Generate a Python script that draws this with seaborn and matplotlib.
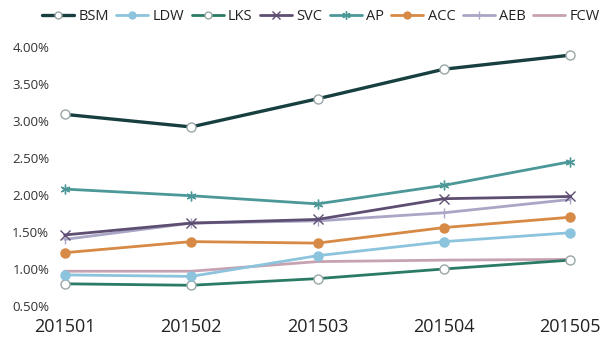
import matplotlib
matplotlib.use("Agg")
import matplotlib.pyplot as plt
import seaborn as sns
import pandas as pd
from matplotlib.ticker import FuncFormatter
from matplotlib.lines import Line2D

months = ["201501", "201502", "201503", "201504", "201505"]
series_names = ["BSM", "LDW", "LKS", "SVC", "AP", "ACC", "AEB", "FCW"]
BSM = [3.09, 2.92, 3.30, 3.70, 3.89]
LDW = [0.92, 0.90, 1.18, 1.37, 1.49]
LKS = [0.80, 0.78, 0.87, 1.00, 1.12]
SVC = [1.46, 1.62, 1.67, 1.95, 1.98]
AP = [2.08, 1.99, 1.88, 2.13, 2.45]
ACC = [1.22, 1.37, 1.35, 1.56, 1.70]
AEB = [1.40, 1.62, 1.65, 1.76, 1.94]
FCW = [0.97, 0.97, 1.10, 1.12, 1.13]
values = [BSM, LDW, LKS, SVC, AP, ACC, AEB, FCW]
yticks = [0.5, 1.0, 1.5, 2.0, 2.5, 3.0, 3.5, 4.0]

colors = {"BSM": "#183f40", "LDW": "#8cc3dd", "LKS": "#2b7a66", "SVC": "#5d4e72",
          "AP": "#4c9797", "ACC": "#d68a45", "AEB": "#a9a6c6", "FCW": "#c7a2b2"}
styles = {
    "BSM": dict(marker="o", mfc="white", lw=2.4),
    "LDW": dict(marker="o", mfc=None, lw=2.0),
    "LKS": dict(marker="o", mfc="white", lw=2.0),
    "SVC": dict(marker="x", mfc=None, lw=2.0),
    "AP": dict(marker=(6, 2, 0), mfc=None, lw=2.0),
    "ACC": dict(marker="o", mfc=None, lw=2.0),
    "AEB": dict(marker="|", mfc=None, lw=2.0),
    "FCW": dict(marker=None, mfc=None, lw=2.0),
}

rows = []
for name, vals in zip(series_names, values):
    for m, v in zip(months, vals):
        rows.append({"month": m, "series": name, "value": v})
df = pd.DataFrame(rows)
df["x"] = df["month"].map({m: i for i, m in enumerate(months)})

sns.set_theme(style="white")
plt.rcParams['font.family'] = ['Open Sans', 'DejaVu Sans']

fig = plt.figure(figsize=(6, 3.47), dpi=100)
ax = fig.add_axes([52 / 600, 1 - 306 / 347, 531 / 600, (306 - 47) / 347])

draw_order = ["FCW", "LKS", "LDW", "ACC", "AEB", "SVC", "AP", "BSM"]
for name in draw_order:
    st = styles[name]
    c = colors[name]
    kw = dict(color=c, linewidth=st["lw"])
    if st["marker"] is not None:
        kw.update(marker=st["marker"], markersize=6.5 if st["marker"] == "o" else 7,
                  markeredgecolor=c if st["mfc"] is None else "#9aa6a6",
                  markerfacecolor=c if st["mfc"] is None else st["mfc"],
                  markeredgewidth=1.0)
    sns.lineplot(data=df[df["series"] == name], x="x", y="value", ax=ax,
                 legend=False, clip_on=False, **kw)

ax.set_xlim(-0.1, 4.1)
ax.set_ylim(0.5, 4.0)
ax.set_xticks(range(len(months)))
ax.set_xticklabels(months, fontsize=13, color="#222222")
ax.set_yticks(yticks)
ax.yaxis.set_major_formatter(FuncFormatter(lambda v, p: f"{v:.2f}%"))
ax.tick_params(axis="y", labelsize=9.5, colors="#333333", pad=2, length=0)
ax.tick_params(axis="x", pad=9, length=0)
ax.set_xlabel("")
ax.set_ylabel("")
for s in ax.spines.values():
    s.set_visible(False)
ax.grid(False)

handles = []
for name in series_names:
    st = styles[name]
    c = colors[name]
    h = Line2D([0], [0], color=c, linewidth=st["lw"],
               marker=st["marker"] if st["marker"] is not None else None,
               markersize=5 if st["marker"] == "o" else 6,
               markerfacecolor=c if st["mfc"] is None else st["mfc"],
               markeredgecolor=c if st["mfc"] is None else "#9aa6a6")
    handles.append(h)
fig.legend(handles, series_names, loc="center", bbox_to_anchor=(0.535, 1 - 17 / 347),
           ncol=8, frameon=False, fontsize=10.5, handlelength=2.2, handletextpad=0.3,
           columnspacing=0.5, labelcolor="#222222")

fig.savefig("out.png", dpi=100, facecolor="white")
